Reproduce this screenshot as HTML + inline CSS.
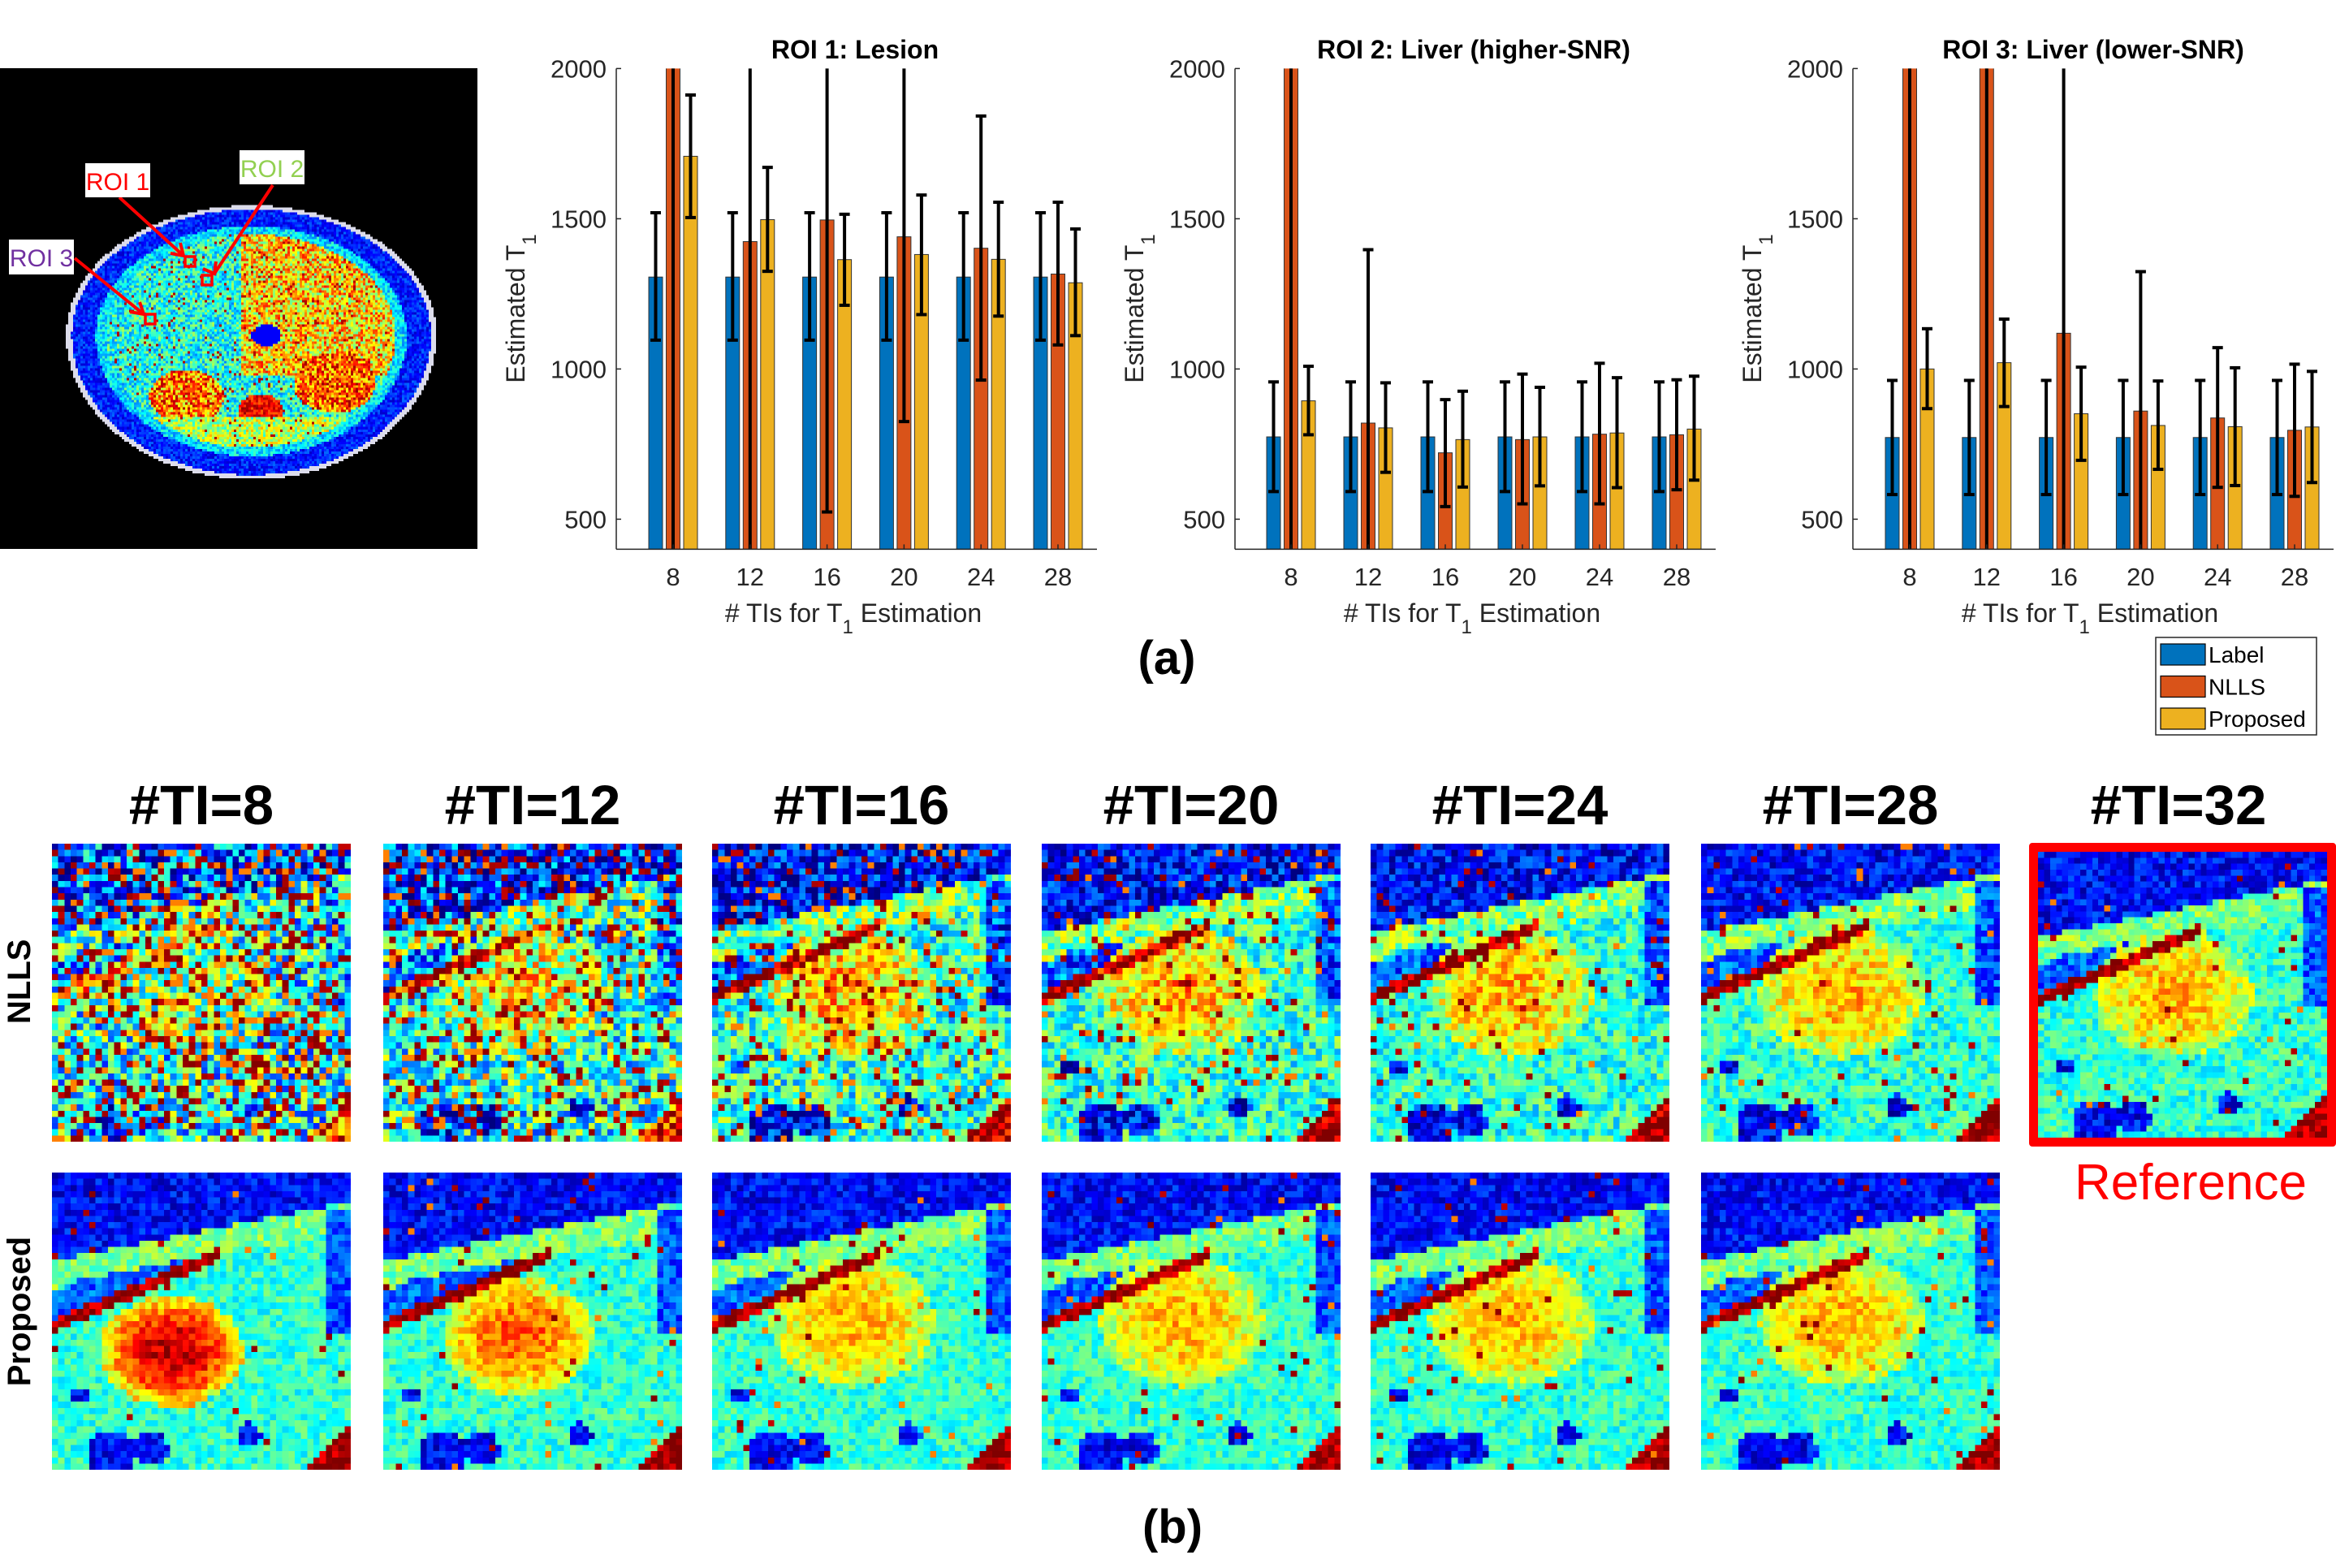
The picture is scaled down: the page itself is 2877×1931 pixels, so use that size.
<!DOCTYPE html>
<html><head><meta charset="utf-8"><style>
html,body{margin:0;padding:0;background:#fff;}
body{width:2877px;height:1931px;position:relative;overflow:hidden;font-family:"Liberation Sans",sans-serif;}
.abs{position:absolute;}
canvas.pix{image-rendering:pixelated;image-rendering:crisp-edges;}
.hdr{position:absolute;font-weight:bold;font-size:69px;text-align:center;width:400px;line-height:1;}
</style></head><body>
<div class="abs" style="left:0;top:84px;width:588px;height:592px;">
<canvas id="mri" class="pix" width="196" height="197" style="width:588px;height:592px;display:block"></canvas>
<svg class="abs" style="left:0;top:0" width="588" height="592">
<g stroke="#f00" stroke-width="4" fill="none">
<line x1="147" y1="159" x2="226" y2="231"/><polyline points="210,228 226,231 222,215"/>
<line x1="336" y1="144" x2="264" y2="253"/><polyline points="250,247 264,253 266,238"/>
<line x1="92" y1="234" x2="177" y2="303"/><polyline points="160,300 177,303 172,288"/>
<rect x="228" y="232" width="12" height="12" stroke-width="3.5"/>
<rect x="249" y="255" width="12" height="12" stroke-width="3.5"/>
<rect x="179" y="303" width="12" height="12" stroke-width="3.5"/>
</g>
<rect x="105" y="117" width="80" height="42" fill="#fff"/><text x="145" y="150" font-size="30" text-anchor="middle" fill="#f00" font-family="Liberation Sans, sans-serif">ROI 1</text>
<rect x="295" y="101" width="80" height="42" fill="#fff"/><text x="335" y="134" font-size="30" text-anchor="middle" fill="#92d050" font-family="Liberation Sans, sans-serif">ROI 2</text>
<rect x="11" y="211" width="80" height="43" fill="#fff"/><text x="51" y="244" font-size="30" text-anchor="middle" fill="#7030a0" font-family="Liberation Sans, sans-serif">ROI 3</text>
</svg>
</div>

<svg id="charts" class="abs" style="left:0;top:0" width="2877" height="930"></svg>

<div class="abs" style="left:1337px;top:782px;width:200px;text-align:center;font-weight:bold;font-size:58px;line-height:1">(a)</div>
<div class="abs" style="left:1344px;top:1852px;width:200px;text-align:center;font-weight:bold;font-size:58px;line-height:1">(b)</div>

<div id="grid"></div>
<div class="abs" style="left:-26px;top:1191px;width:100px;text-align:center;font-weight:bold;font-size:40px;line-height:1;transform:rotate(-90deg)">NLLS</div>
<div class="abs" style="left:-76px;top:1595px;width:200px;text-align:center;font-weight:bold;font-size:40px;line-height:1;transform:rotate(-90deg)">Proposed</div>
<div class="abs" style="left:2499px;top:1038px;width:356px;height:352px;border:11px solid #f00;border-radius:4px;"></div>
<div class="abs" style="left:2548px;top:1426px;width:300px;text-align:center;color:#f00;font-size:62px;line-height:1">Reference</div>

<script>
// ---------- Chart data ----------
const categories = [8, 12, 16, 20, 24, 28];
const seriesNames = ["Label", "NLLS", "Proposed"];
const yTicks = [500, 1000, 1500, 2000];
const roi1Label = [1306, 1306, 1306, 1306, 1306, 1306];
const roi1LabelLo = [1096, 1096, 1096, 1096, 1096, 1096];
const roi1LabelHi = [1520, 1520, 1520, 1520, 1520, 1520];
const roi1Nlls = [2600, 1424, 1496, 1440, 1402, 1316];
const roi1NllsLo = [300, 300, 524, 825, 963, 1080];
const roi1NllsHi = [3000, 3000, 3000, 3000, 1842, 1555];
const roi1Prop = [1708, 1497, 1364, 1381, 1365, 1287];
const roi1PropLo = [1504, 1325, 1212, 1181, 1176, 1111];
const roi1PropHi = [1912, 1671, 1515, 1579, 1555, 1466];
const roi2Label = [774, 774, 774, 774, 774, 774];
const roi2LabelLo = [592, 592, 592, 592, 592, 592];
const roi2LabelHi = [957, 957, 957, 957, 957, 957];
const roi2Nlls = [2600, 820, 721, 765, 783, 781];
const roi2NllsLo = [300, 300, 542, 551, 551, 598];
const roi2NllsHi = [3000, 1397, 898, 983, 1019, 964];
const roi2Prop = [894, 804, 765, 774, 787, 800];
const roi2PropLo = [781, 656, 607, 611, 605, 630];
const roi2PropHi = [1009, 954, 926, 939, 971, 976];
const roi3Label = [772, 772, 772, 772, 772, 772];
const roi3LabelLo = [582, 582, 582, 582, 582, 582];
const roi3LabelHi = [962, 962, 962, 962, 962, 962];
const roi3Nlls = [2600, 2600, 1119, 860, 837, 796];
const roi3NllsLo = [300, 300, 300, 300, 606, 576];
const roi3NllsHi = [3000, 3000, 3000, 1324, 1071, 1016];
const roi3Prop = [1000, 1021, 851, 812, 808, 807];
const roi3PropLo = [868, 875, 696, 666, 612, 622];
const roi3PropHi = [1134, 1166, 1006, 960, 1004, 992];

const NS = "http://www.w3.org/2000/svg";
const svg = document.getElementById("charts");
const colors = ["#0072BD", "#D95319", "#EDB120"];
function mk(tag, attrs, parent) {
  const e = document.createElementNS(NS, tag);
  for (const k in attrs) e.setAttribute(k, attrs[k]);
  (parent || svg).appendChild(e);
  return e;
}
const Y_TOP = 84.4, Y_BOT = 676.4;
function yScale(v) { return 639.4 - (v - 500) * 0.37; }

function drawChart(idx, cfg) {
  const g = mk("g", {});
  
  
  function xScale(i) { return cfg.x0 + cfg.dx * i; }
  const clip = mk("clipPath", { id: "clip" + idx }, g);
  mk("rect", { x: cfg.left, y: Y_TOP, width: cfg.right - cfg.left, height: Y_BOT - Y_TOP }, clip);
  const plot = mk("g", { "clip-path": "url(#clip" + idx + ")" }, g);
  const offs = [-21.5, 0, 21.5];
  for (let s = 0; s < 3; s++) {
    for (let i = 0; i < categories.length; i++) {
      const v = cfg.vals[s][i];
      const cx = xScale(i) + offs[s];
      const yv = yScale(v);
      const r = mk("rect", { x: cx - 8.5, y: Math.min(yv, Y_BOT), width: 17, height: Math.max(0, Y_BOT - yv), fill: colors[s], stroke: "#333", "stroke-width": 1 }, plot);
      
      
    }
  }
  for (let s = 0; s < 3; s++) {
    for (let i = 0; i < categories.length; i++) {
      const cx = xScale(i) + offs[s];
      const y1 = yScale(cfg.lo[s][i]), y2 = yScale(cfg.hi[s][i]);
      const eg = mk("g", { stroke: "#000", "stroke-width": 4, fill: "none" }, plot);
      
      
      mk("line", { x1: cx, x2: cx, y1: y1, y2: y2 }, eg);
      mk("line", { x1: cx - 6.5, x2: cx + 6.5, y1: y1, y2: y1 }, eg);
      mk("line", { x1: cx - 6.5, x2: cx + 6.5, y1: y2, y2: y2 }, eg);
    }
  }
  mk("line", { x1: cfg.left, x2: cfg.left, y1: Y_TOP, y2: Y_BOT, stroke: "#262626", "stroke-width": 1.5 }, g);
  mk("line", { x1: cfg.left, x2: cfg.right, y1: Y_BOT, y2: Y_BOT, stroke: "#262626", "stroke-width": 1.5 }, g);
  for (const t of yTicks) {
    const y = yScale(t);
    mk("line", { x1: cfg.left, x2: cfg.left + 6, y1: y, y2: y, stroke: "#262626", "stroke-width": 1.5 }, g);
    const tx = mk("text", { x: cfg.left - 12, y: y + 11, "font-size": 31, "text-anchor": "end", fill: "#262626" }, g);
    
    
    tx.textContent = t;
  }
  for (let i = 0; i < categories.length; i++) {
    const x = xScale(i);
    mk("line", { x1: x, x2: x, y1: Y_BOT, y2: Y_BOT - 6, stroke: "#262626", "stroke-width": 1.5 }, g);
    const tx = mk("text", { x: x, y: 721, "font-size": 31, "text-anchor": "middle", fill: "#262626" }, g);
    
    
    tx.textContent = categories[i];
  }
  const title = mk("text", { x: cfg.titleX, y: 72, "font-size": 32, "font-weight": "bold", "text-anchor": "middle", fill: "#000" }, g);
  
  
  title.textContent = cfg.title;
  const xl = mk("text", { x: (cfg.left + cfg.right) / 2 - 4, y: 766, "font-size": 32, "text-anchor": "middle", fill: "#262626" }, g);
  
  
  xl.innerHTML = '# TIs for T<tspan dy="14" font-size="24">1</tspan><tspan dy="-14"> Estimation</tspan>';
  const yx = cfg.left - 113, yy = 380;
  const yl = mk("text", { x: yx, y: yy, "font-size": 32, "text-anchor": "middle", fill: "#262626", transform: "rotate(-90 " + yx + " " + yy + ")" }, g);
  
  
  yl.innerHTML = 'Estimated T<tspan dy="14" font-size="24">1</tspan>';
}
drawChart(0, { left: 759, right: 1351, x0: 829, dx: 94.8, titleX: 1053, title: "ROI 1: Lesion",
  vals: [roi1Label, roi1Nlls, roi1Prop], lo: [roi1LabelLo, roi1NllsLo, roi1PropLo], hi: [roi1LabelHi, roi1NllsHi, roi1PropHi] });
drawChart(1, { left: 1521, right: 2113, x0: 1590, dx: 95, titleX: 1815, title: "ROI 2: Liver (higher-SNR)",
  vals: [roi2Label, roi2Nlls, roi2Prop], lo: [roi2LabelLo, roi2NllsLo, roi2PropLo], hi: [roi2LabelHi, roi2NllsHi, roi2PropHi] });
drawChart(2, { left: 2282, right: 2874, x0: 2352, dx: 94.8, titleX: 2578, title: "ROI 3: Liver (lower-SNR)",
  vals: [roi3Label, roi3Nlls, roi3Prop], lo: [roi3LabelLo, roi3NllsLo, roi3PropLo], hi: [roi3LabelHi, roi3NllsHi, roi3PropHi] });

const lg = mk("g", {});


mk("rect", { x: 2655, y: 785, width: 198, height: 120, fill: "#fff", stroke: "#262626", "stroke-width": 1.5 }, lg);
for (let s = 0; s < 3; s++) {
  const cy = 806 + s * 39.5;
  const sw = mk("rect", { x: 2661, y: cy - 13, width: 55, height: 26, fill: colors[s], stroke: "#000", "stroke-width": 1.2 }, lg);
  
  
  const t = mk("text", { x: 2720, y: cy + 10, "font-size": 28, fill: "#000" }, lg);
  
  
  t.textContent = seriesNames[s];
}

// ---------- pixel maps ----------
function jet(v) {
  v = Math.max(0, Math.min(1, v));
  const c = x => Math.round(255 * Math.max(0, Math.min(1, x)));
  return [c(1.5 - Math.abs(4 * v - 3)), c(1.5 - Math.abs(4 * v - 2)), c(1.5 - Math.abs(4 * v - 1))];
}
function hash(a, b, c) {
  let h = (a * 374761393 + b * 668265263 + c * 2147483647) | 0;
  h = (h ^ (h >>> 13)) * 1274126177 | 0;
  h = h ^ (h >>> 16);
  return ((h >>> 0) % 100000) / 100000;
}
function baseField(u, v, p) {
  let val = 0.42;
  const topB = 0.3 - 0.2 * u;
  if (v < topB) val = 0.12 + 0.05 * v;
  else if (v < topB + 0.1) val = 0.5;
  const lv = 0.52 - 0.44 * u;
  if (u < 0.6 && v > lv - 0.12 && v < lv - 0.02 && v > topB + 0.08) val = 0.22;
  const dx = (u - p.lx) / p.lrx, dy = (v - p.ly) / p.lry;
  const d = dx * dx + dy * dy;
  if (d < 1.2) val = p.lval - (p.lval - 0.5) * Math.min(1, d) * 0.7;
  if (u < 0.57 && Math.abs(v - lv) < 0.022 && v > topB) val = 0.97;
  if (u > 0.92 && v > 0.12 && v < 0.55) val = 0.2;
  const blobs = [[0.2, 0.95, 0.08], [0.33, 0.93, 0.06], [0.66, 0.88, 0.04], [0.1, 0.75, 0.03]];
  for (const b of blobs) { const r = Math.hypot(u - b[0], v - b[1]); if (r < b[2]) val = 0.12; }
  if (u + v > 1.85) val = 0.97;
  return val;
}
const cols = [64, 472, 877, 1283, 1688, 2095];
const tis = [8, 12, 16, 20, 24, 28];
const nllsSig = [0.24, 0.22, 0.18, 0.15, 0.13, 0.11];
const nllsOut = [0.28, 0.2, 0.12, 0.07, 0.04, 0.025];
const grid = document.getElementById("grid");
function makePanel(x, y, w, h, params, name, seed) {
  const cv = document.createElement("canvas");
  cv.width = 48; cv.height = 48;
  cv.className = "pix abs";
  cv.style.left = x + "px"; cv.style.top = y + "px";
  cv.style.width = w + "px"; cv.style.height = h + "px";
  
  
  const ctx = cv.getContext("2d");
  const img = ctx.createImageData(48, 48);
  for (let j = 0; j < 48; j++) for (let i = 0; i < 48; i++) {
    const u = (i + 0.5) / 48, v = (j + 0.5) / 48;
    let val = baseField(u, v, params);
    val = params.blend * val + (1 - params.blend) * 0.35;
    val += (hash(i, j, seed) * 2 - 1) * params.sig;
    const o = hash(i + 7, j + 3, seed + 11);
    if (o < params.out) val = hash(i, j, seed + 5) < 0.7 ? 0.93 + 0.07 * hash(i, j, seed + 9) : 0.75;
    const c = jet(val);
    const k = (j * 48 + i) * 4;
    img.data[k] = c[0]; img.data[k + 1] = c[1]; img.data[k + 2] = c[2]; img.data[k + 3] = 255;
  }
  ctx.putImageData(img, 0, 0);
  grid.appendChild(cv);
}
for (let c = 0; c < 6; c++) {
  const h = document.createElement("div");
  h.className = "hdr";
  h.style.left = (cols[c] + 184 - 200) + "px"; h.style.top = "957px";
  
  
  h.textContent = "#TI=" + tis[c];
  grid.appendChild(h);
  makePanel(cols[c], 1039, 368, 367, { lx: 0.47, ly: 0.5, lrx: 0.25, lry: 0.2, lval: 0.7, sig: nllsSig[c], out: nllsOut[c], blend: c === 0 ? 0.55 : (c === 1 ? 0.8 : 1) }, 'nlls-map-ti' + tis[c], 100 + c);
  const pr = c === 0 ? { lx: 0.4, ly: 0.6, lrx: 0.22, lry: 0.17, lval: 0.95, sig: 0.09, out: 0.01, blend: 1 }
    : c === 1 ? { lx: 0.45, ly: 0.55, lrx: 0.23, lry: 0.18, lval: 0.8, sig: 0.09, out: 0.02, blend: 1 }
    : { lx: 0.47, ly: 0.5, lrx: 0.25, lry: 0.2, lval: 0.7, sig: 0.09, out: 0.02, blend: 1 };
  makePanel(cols[c], 1444, 368, 366, pr, 'proposed-map-ti' + tis[c], 200 + c);
}
const h32 = document.createElement("div");
h32.className = "hdr";
h32.style.left = "2483px"; h32.style.top = "957px";


h32.textContent = "#TI=32";
grid.appendChild(h32);
makePanel(2510, 1049, 356, 352, { lx: 0.47, ly: 0.5, lrx: 0.25, lry: 0.2, lval: 0.7, sig: 0.1, out: 0.015, blend: 1 }, 'reference-map-ti32', 300);

// ---------- MRI overview ----------
(function () {
  const cv = document.getElementById("mri");
  const ctx = cv.getContext("2d");
  const W = 196, H = 197;
  const img = ctx.createImageData(W, H);
  const cx = 102.7, cy = 109, rx = 76, ry = 56;
  for (let j = 0; j < H; j++) for (let i = 0; i < W; i++) {
    const k = (j * W + i) * 4;
    let dx = (i - cx) / rx, dy = (j - cy) / ry;
    const dyy = dy < 0 ? dy * 1.05 : dy * 0.95;
    const r = Math.sqrt(dx * dx + dyy * dyy);
    let c;
    if (r > 1.0) c = [0, 0, 0];
    else if (r > 0.97) c = [220, 220, 235];
    else {
      let val;
      const n = hash(i, j, 9) * 2 - 1;
      if (r > 0.84) val = 0.15 + 0.08 * n;
      else if (r > 0.78) val = 0.35 + 0.1 * n;
      else {
        val = 0.4 + 0.15 * n;
        if (dx > -0.05 && dy < 0.3) val = 0.66 + 0.2 * n;
        if (Math.hypot(dx + 0.35, dy - 0.45) < 0.2) val = 0.75 + 0.2 * n;
        if (Math.hypot(dx - 0.45, dy - 0.35) < 0.22) val = 0.78 + 0.2 * n;
        if (Math.hypot(dx - 0.05, dy - 0.55) < 0.12) val = 0.88 + 0.1 * n;
        if (dy > 0.6 && Math.abs(dx) < 0.6) val = 0.55 + 0.15 * n;
        if (Math.hypot(dx - 0.08, dy) < 0.08) val = 0.12;
        if (hash(i, j, 17) < 0.05) val = 0.95;
      }
      c = jet(val);
    }
    img.data[k] = c[0]; img.data[k + 1] = c[1]; img.data[k + 2] = c[2]; img.data[k + 3] = 255;
  }
  ctx.putImageData(img, 0, 0);
})();
</script>
</body></html>
